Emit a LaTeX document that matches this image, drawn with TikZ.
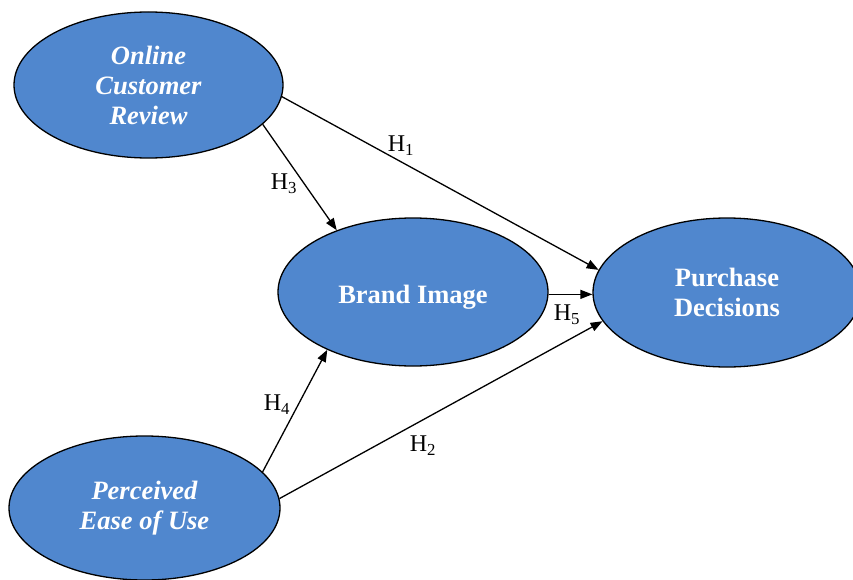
\documentclass[tikz,border=0pt]{standalone}
\usepackage{fontspec}
\setmainfont{Liberation Serif}
\usetikzlibrary{shapes.geometric,arrows.meta}
\definecolor{constructblue}{RGB}{80,135,206}
\begin{document}
\begin{tikzpicture}[x=1pt,y=-1pt,
  construct/.style={ellipse,draw=black,line width=1.3pt,fill=constructblue,
    text=white,inner sep=0pt,align=center,
    font=\fontsize{26.5}{30}\selectfont\bfseries},
  path/.style={line width=1.3pt,-{Triangle[length=12pt,width=9pt]}},
  hyp/.style={font=\fontsize{24}{26}\selectfont,inner sep=1pt}]
  \useasboundingbox (0,0) rectangle (853,580);
  \clip (0,0) rectangle (853,580);

  % latent constructs
  \node[construct,minimum width=269pt,minimum height=146pt] (ocr) at (148.5,85)
    {\itshape Online\\\itshape Customer\\\itshape Review};
  \node[construct,minimum width=270pt,minimum height=148pt] (bi) at (413,292)
    {\smash{\raisebox{-11pt}{Brand Image}}};
  \node[construct,minimum width=268pt,minimum height=149pt] (pd) at (727,292.5)
    {Purchase\\Decisions};
  \node[construct,minimum width=271pt,minimum height=144pt] (peu) at (144.5,508)
    {\itshape Perceived\\\itshape Ease of Use};

  % hypothesised paths
  \draw[path] (ocr.-5) -- (pd.170);
  \draw[path] (ocr.-19) -- (bi.141);
  \draw[path] (bi.-1) -- (bi.-1 -| pd.west);
  \draw[path] (peu.17.5) -- (bi.214);
  \draw[path] (peu.4) -- (pd.193);

  % path labels
  \node[hyp] (h1) at (401,146) {H\textsubscript{1}};
  \node[hyp] (h3) at (284,184) {H\textsubscript{3}};
  \node[hyp] (h5) at (567,315) {H\textsubscript{5}};
  \node[hyp] (h4) at (277,405) {H\textsubscript{4}};
  \node[hyp] (h2) at (423,446) {H\textsubscript{2}};
\end{tikzpicture}
\end{document}
